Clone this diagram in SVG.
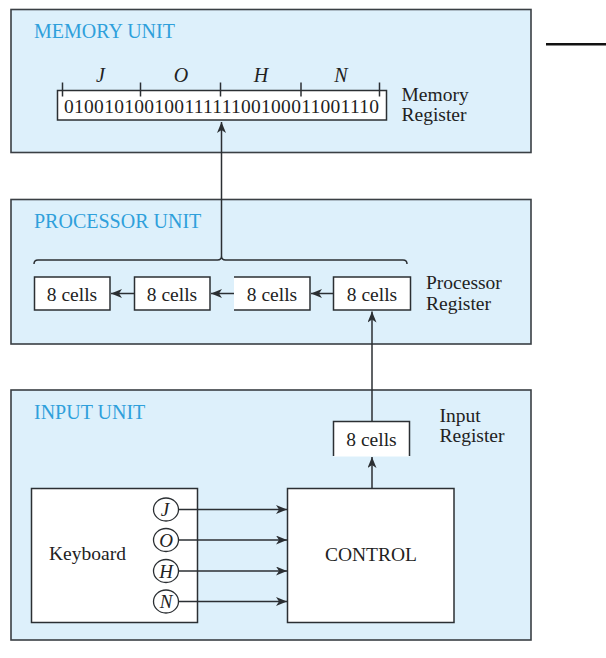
<svg xmlns="http://www.w3.org/2000/svg" width="606" height="658" viewBox="0 0 606 658">
  <style>
    .unit { fill: #ddf0fb; stroke: #3a3f44; stroke-width: 1.6; }
    .box { fill: #ffffff; stroke: #2b2f33; stroke-width: 1.5; }
    .edge { fill: none; stroke: #2b2f33; stroke-width: 1.5; }
    .title { font-family: "Liberation Serif", "Times New Roman", serif; font-size: 20px; fill: #2fa0db; }
    .txt { font-family: "Liberation Serif", "Times New Roman", serif; font-size: 19.5px; fill: #222222; }
    .ital { font-family: "Liberation Serif", "Times New Roman", serif; font-size: 20px; font-style: italic; fill: #222222; }
    .key { font-family: "Liberation Serif", "Times New Roman", serif; font-size: 19px; font-style: italic; fill: #222222; }
    .wire { fill: none; stroke: #2b2f33; stroke-width: 1.5; }
    .arrow { fill: none; stroke: #2b2f33; stroke-width: 1.5; marker-end: url(#head); }
  </style>
  <defs>
    <marker id="head" markerUnits="userSpaceOnUse" markerWidth="12" markerHeight="10" refX="11" refY="4.5" orient="auto">
      <path d="M0,0 L11,4.5 L0,9 L3,4.5 Z" fill="#2b2f33"/>
    </marker>
  </defs>

  <rect width="606" height="658" fill="#ffffff"/>

  <!-- stray rule at the top right -->
  <line x1="546" y1="44.3" x2="606" y2="44.3" stroke="#111111" stroke-width="2.6"/>

  <!-- memory unit -->
  <g id="memory-unit">
    <rect class="unit" x="11" y="9.5" width="520" height="143"/>
    <text class="title" x="34" y="37.5">MEMORY UNIT</text>
  </g>

  <g id="memory-register">
    <rect class="box" x="57.5" y="90.5" width="329" height="29.5"/>
    <g class="edge">
      <line x1="62.5" y1="82.5" x2="62.5" y2="96.5"/>
      <line x1="140.5" y1="82.5" x2="140.5" y2="96.5"/>
      <line x1="220.5" y1="82.5" x2="220.5" y2="96.5"/>
      <line x1="301" y1="82.5" x2="301" y2="96.5"/>
      <line x1="379.5" y1="82.5" x2="379.5" y2="96.5"/>
    </g>
    <g class="ital" text-anchor="middle">
      <text x="100.5" y="82">J</text>
      <text x="181" y="82">O</text>
      <text x="261" y="82">H</text>
      <text x="341" y="82">N</text>
    </g>
    <text class="txt" x="221.5" y="112.5" text-anchor="middle" textLength="315" lengthAdjust="spacing">01001010010011111100100011001110</text>
    <text class="txt" x="401.5" y="100.5">Memory</text>
    <text class="txt" x="401.5" y="120.5">Register</text>
  </g>

  <!-- processor unit -->
  <g id="processor-unit">
    <rect class="unit" x="11" y="199.5" width="520" height="144.5"/>
    <text class="title" x="34" y="227.5">PROCESSOR UNIT</text>
    <path class="edge" d="M34,264 Q34,260 38,260 L217.5,260 Q221.5,260 221.5,256 Q221.5,260 225.5,260 L403,260 Q407,260 407,264"/>
    <text class="txt" x="426" y="288.5">Processor</text>
    <text class="txt" x="426" y="309.5">Register</text>
  </g>

  <g id="proc-cell-1">
    <rect class="box" x="34.5" y="277" width="75.5" height="33"/>
    <text class="txt" x="72" y="300.5" text-anchor="middle">8 cells</text>
  </g>
  <g id="proc-cell-2">
    <rect class="box" x="134.5" y="277" width="75.5" height="33"/>
    <text class="txt" x="172" y="300.5" text-anchor="middle">8 cells</text>
  </g>
  <g id="proc-cell-3">
    <rect x="234" y="277" width="76" height="33" fill="#ffffff"/>
    <path class="edge" d="M234,277 H310 V310 H234"/>
    <text class="txt" x="272" y="300.5" text-anchor="middle">8 cells</text>
  </g>
  <g id="proc-cell-4">
    <rect class="box" x="333.5" y="277" width="77" height="33"/>
    <text class="txt" x="372" y="300.5" text-anchor="middle">8 cells</text>
  </g>

  <!-- input unit -->
  <g id="input-unit">
    <rect class="unit" x="11" y="390" width="520" height="250"/>
    <text class="title" x="34" y="418.5">INPUT UNIT</text>
    <text class="txt" x="439.5" y="422">Input</text>
    <text class="txt" x="439.5" y="442">Register</text>
  </g>

  <g id="input-register">
    <rect x="333.5" y="421.5" width="76" height="35" fill="#ffffff"/>
    <path class="edge" d="M333.5,456 V421.5 H409.5 V456"/>
    <text class="txt" x="371.5" y="446" text-anchor="middle">8 cells</text>
  </g>

  <g id="keyboard">
    <rect class="box" x="31.5" y="488.5" width="166" height="134"/>
    <text class="txt" x="49" y="560" font-size="20">Keyboard</text>
    <g fill="#ffffff" stroke="#2b2f33" stroke-width="1.3">
      <ellipse cx="166" cy="509.5" rx="12.5" ry="11.5"/>
      <ellipse cx="166" cy="540" rx="12.5" ry="11.5"/>
      <ellipse cx="166" cy="571" rx="12.5" ry="11.5"/>
      <ellipse cx="166" cy="601.5" rx="12.5" ry="11.5"/>
    </g>
    <g class="key" text-anchor="middle">
      <text x="165" y="516">J</text>
      <text x="166" y="546.5">O</text>
      <text x="166" y="577.5">H</text>
      <text x="166" y="608">N</text>
    </g>
  </g>

  <g id="control">
    <rect class="box" x="287.5" y="488.5" width="166.5" height="134"/>
    <text class="txt" x="371" y="560.5" text-anchor="middle" font-size="20.5">CONTROL</text>
  </g>

  <!-- connectors -->
  <g id="connectors">
    <line class="arrow" x1="221.5" y1="256" x2="221.5" y2="122"/>
    <line class="arrow" x1="372" y1="421.5" x2="372" y2="311.5"/>
    <line class="arrow" x1="372" y1="488.5" x2="372" y2="457"/>
    <line class="arrow" x1="333.5" y1="293.5" x2="311" y2="293.5"/>
    <line class="arrow" x1="234" y1="293.5" x2="211" y2="293.5"/>
    <line class="arrow" x1="134.5" y1="293.5" x2="111" y2="293.5"/>
    <line class="arrow" x1="178.5" y1="509.5" x2="287" y2="509.5"/>
    <line class="arrow" x1="178.5" y1="540" x2="287" y2="540"/>
    <line class="arrow" x1="178.5" y1="571" x2="287" y2="571"/>
    <line class="arrow" x1="178.5" y1="601.5" x2="287" y2="601.5"/>
  </g>
</svg>
